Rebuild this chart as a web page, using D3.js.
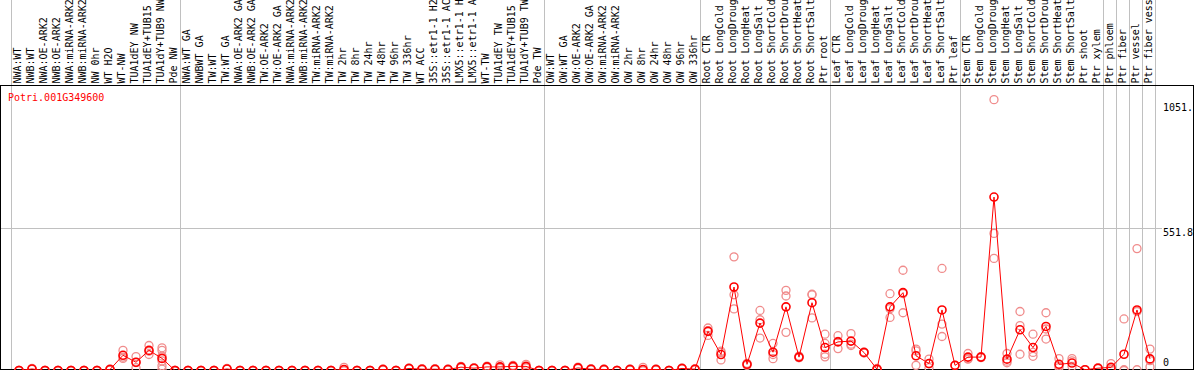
<!DOCTYPE html>
<html>
<head>
<meta charset="utf-8">
<script src="https://cdn.jsdelivr.net/npm/d3@7"></script>
<style>
html,body{margin:0;padding:0;background:#fff;}
svg{display:block;}
text{font-family:"DejaVu Sans Mono","Liberation Mono",monospace;font-size:10px;}
</style>
</head>
<body>
<svg id="chart" width="1194" height="370"></svg>
<script>
const title = "Potri.001G349600";

const categories = [
"NWA:WT","NWB:WT","NWA:OE-ARK2","NWB:OE-ARK2","NWA:miRNA-ARK2","NWB:miRNA-ARK2","NW 0hr","WT H2O","WT-NW","TUA1dEY NW","TUA1dEY+TUB15","TUA1dY+TUB9 NW","Pde NW",
"NWA:WT GA","NWBWT GA","TW:WT","TW:WT GA","NWA:OE-ARK2 GA","NWB:OE-ARK2 GA","TW:OE-ARK2","TW:OE-ARK2 GA","NWA:miRNA-ARK2","NWB:miRNA-ARK2","TW:miRNA-ARK2","TW:miRNA-ARK2","TW 2hr","TW 8hr","TW 24hr","TW 48hr","TW 96hr","TW 336hr","WT ACC","35S::etr1-1 H2","35S::etr1-1 AC","LMX5::etr1-1 H","LMX5::etr1-1 A","WT-TW","TUA1dEY TW","TUA1dEY+TUB15","TUA1dY+TUB9 TW","Pde TW",
"OW:WT","OW:WT GA","OW:OE-ARK2","OW:OE-ARK2 GA","OW:miRNA-ARK2","OW:miRNA-ARK2","OW 2hr","OW 8hr","OW 24hr","OW 48hr","OW 96hr","OW 336hr",
"Root CTR","Root LongCold","Root LongDroug","Root LongHeat","Root LongSalt","Root ShortCold","Root ShortDrou","Root ShortHeat","Root ShortSalt","Ptr root",
"Leaf CTR","Leaf LongCold","Leaf LongDroug","Leaf LongHeat","Leaf LongSalt","Leaf ShortCold","Leaf ShortDrou","Leaf ShortHeat","Leaf ShortSalt","Ptr leaf",
"Stem CTR","Stem LongCold","Stem LongDroug","Stem LongHeat","Stem LongSalt","Stem ShortCold","Stem ShortDrou","Stem ShortHeat","Stem ShortSalt","Ptr shoot","Ptr xylem",
"Ptr phloem","Ptr fiber","Ptr vessel","Ptr fiber vess"
];

// index of last category in each separated group
const groupEnds = [12, 40, 52, 62, 72, 83, 84, 85, 86, 87];

const means = [
0,6,0,0,0,0,0,4,59,32,78,47,0,
0,0,0,6,0,0,0,0,0,0,0,0,4,0,0,4,0,8,5,5,4,13,9,14,14,16,16,0,
0,0,10,5,4,0,4,4,4,0,8,5,
152,62,324,24,184,71,247,52,263,89,
111,114,70,5,247,302,57,27,235,20,
52,52,673,44,158,89,171,24,29,3,9,
12,63,235,45
];

const replicates = [
[0,0,0],[8,6,4],[0,0,0],[0,0,0],[0,0,0],[0,0,0],[0,0,0],[6,3,3],[78,47,52],[54,11,31],[97,62,75],[88,78,56,37,18,5],[0,0,0],
[0,0,0],[0,0,0],[0,0,0],[8,5,5],[0,0,0],[0,0,0],[0,0,0],[0,0,0],[0,0,0],[0,0,0],[0,0,0],[0,0,0],[12,0,0],[0,0,0],[0,0,0],[6,4,2],[0,0,0],[10,8,6],[7,5,3],[7,5,3],[6,4,2],[16,13,10],[11,9,7],[17,14,11],[22,12,8],[20,16,12],[24,14,10],[0,0,0],
[0,0,0],[0,0,0],[13,10,7],[7,5,3],[6,4,2],[0,0,0],[6,4,2],[12,0,0],[6,4,2],[0,0,0],[10,8,6],[7,5,3],
[165,155,136],[70,41,75],[441,294,239],[20,28,24],[233,197,126],[105,46,62],[311,289,148],[56,50,50],[296,294,204],[141,105,63,53],
[135,85,113],[143,102,97],[72,68,70],[8,2,5],[298,206,240],[389,298,224],[83,76,20],[44,11,26],[396,180,132],[20],
[66,44,46],[54,50,52],[1051,532,435],[66,30,36],[229,174,63],[141,70,55],[224,161,122],[46,18,11],[46,37,16],[3],[11,7,9],
[27,3,5],[200,3,0],[473,3,229],[83,14,38]
];

const yMax = 1103.6;
const yTickValues = [1051, 551.8, 0];
const yTickLabels = ["1051.", "551.8", "0"];
const gridValue = 551.8;

const svg = d3.select("#chart");
const W = 1194, H = 370;

svg.append("rect").attr("x",0).attr("y",0).attr("width",W).attr("height",H).attr("fill","#fff");

const idx = d3.range(categories.length);
const x = d3.scaleBand().domain(idx).range([11.3, 11.3 + 13 * categories.length]).padding(0);
const y = d3.scaleLinear().domain([0, yMax]).range([370.5, 86.1]);
const px = i => x(i) + x.bandwidth() / 2 + 1.2;
const crisp = v => Math.round(v) + 0.5;

// vertical separators
const sepXs = [x(0)].concat(groupEnds.map(i => x(i) + x.bandwidth()));
svg.append("g").selectAll("line").data(sepXs).join("line")
  .attr("x1", d => crisp(d)).attr("x2", d => crisp(d))
  .attr("y1", 0).attr("y2", 369)
  .attr("stroke", "#c0c0c0").attr("stroke-width", 1);

// horizontal grid line
svg.append("line")
  .attr("x1", 1).attr("x2", 1162)
  .attr("y1", crisp(y(gridValue))).attr("y2", crisp(y(gridValue)))
  .attr("stroke", "#c0c0c0").attr("stroke-width", 1);

// frame lines
svg.append("line").attr("x1",0).attr("x2",W).attr("y1",85.5).attr("y2",85.5).attr("stroke","#000");
svg.append("line").attr("x1",0).attr("x2",W).attr("y1",369.5).attr("y2",369.5).attr("stroke","#000");
svg.append("line").attr("x1",0.5).attr("x2",0.5).attr("y1",85).attr("y2",370).attr("stroke","#000");
svg.append("line").attr("x1",1193.5).attr("x2",1193.5).attr("y1",85).attr("y2",370).attr("stroke","#000");

// column labels
svg.append("g").selectAll("text").data(idx).join("text")
  .attr("transform", i => `translate(${x(i) + x.bandwidth()/2 + 3.5},83.5) rotate(-90)`)
  .attr("text-anchor", "start")
  .attr("fill", "#000")
  .text(i => categories[i]);

// plot content clipped
svg.append("clipPath").attr("id","plotclip").append("rect")
  .attr("x",1).attr("y",86).attr("width",1192).attr("height",284);
const plot = svg.append("g").attr("clip-path","url(#plotclip)");

// replicate points
const repPts = [];
replicates.forEach((arr, i) => arr.forEach(v => repPts.push({i, v})));
plot.append("g").selectAll("circle").data(repPts).join("circle")
  .attr("cx", d => px(d.i)).attr("cy", d => y(d.v)).attr("r", 4)
  .attr("fill", "none").attr("stroke", "#f08c8c").attr("stroke-width", 1.3);

// mean line
const line = d3.line().x((d, i) => px(i)).y(d => y(d));
plot.append("path").datum(means).attr("d", line)
  .attr("fill","none").attr("stroke","#ff0000").attr("stroke-width",1);

// mean points
plot.append("g").selectAll("circle").data(means).join("circle")
  .attr("cx", (d, i) => px(i)).attr("cy", d => y(d)).attr("r", 4)
  .attr("fill", "none").attr("stroke", "#ff0000").attr("stroke-width", 1.6);

// right axis labels
svg.append("g").selectAll("text").data(yTickValues).join("text")
  .attr("x", 1163)
  .attr("y", d => Math.min(Math.max(y(d), 103), 358) + 8)
  .attr("fill", "#000")
  .text((d, i) => yTickLabels[i]);

// title
svg.append("text").attr("x", 8).attr("y", 101).attr("fill", "#ff0000").text(title);
</script>
</body>
</html>
